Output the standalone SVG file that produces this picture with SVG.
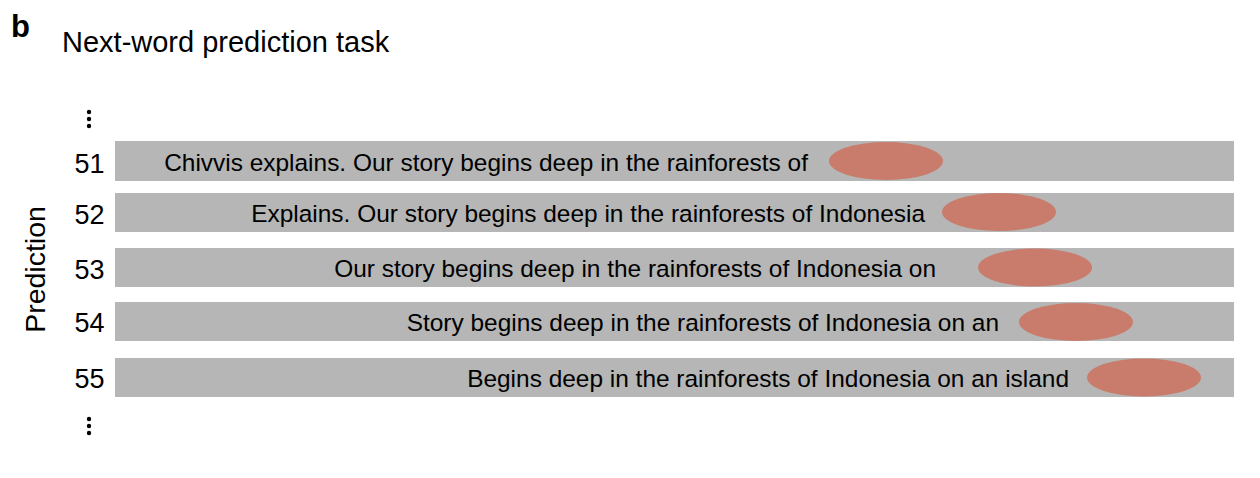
<svg xmlns="http://www.w3.org/2000/svg" width="1260" height="478" viewBox="0 0 1260 478">
<style>
.t{font-family:"Liberation Sans",Arial,sans-serif;fill:#000}
.bar{fill:#b5b6b5}
.ell{fill:#c97c6c}
.s{font-size:24.45px;text-anchor:end}
.n{font-size:27px;text-anchor:end}
.dot{fill:#000}
</style>
<rect width="1260" height="478" fill="#fff"/>
<text class="t" x="11" y="37" font-size="31" font-weight="bold">b</text>
<text class="t" x="62" y="52" font-size="29">Next-word prediction task</text>
<text class="t" font-size="28.5" text-anchor="middle" transform="translate(45,269.5) rotate(-90)">Prediction</text>
<g id="dots-top"><circle class="dot" cx="89" cy="112" r="2.2"/><circle class="dot" cx="89" cy="119" r="2.2"/><circle class="dot" cx="89" cy="126" r="2.2"/></g>
<g id="dots-bottom"><circle class="dot" cx="89" cy="419" r="2.2"/><circle class="dot" cx="89" cy="426" r="2.2"/><circle class="dot" cx="89" cy="433" r="2.2"/></g>
<g id="row51">
<text class="t n" x="104.5" y="172.5">51</text>
<rect class="bar" x="115" y="141" width="1119" height="40"/>
<ellipse class="ell" cx="886" cy="161" rx="57" ry="19"/>
<text class="t s" x="808" y="171">Chivvis explains. Our story begins deep in the rainforests of</text>
</g>
<g id="row52">
<text class="t n" x="104.5" y="224">52</text>
<rect class="bar" x="115" y="193" width="1119" height="39"/>
<ellipse class="ell" cx="999" cy="212" rx="57" ry="19"/>
<text class="t s" x="925" y="222">Explains. Our story begins deep in the rainforests of Indonesia</text>
</g>
<g id="row53">
<text class="t n" x="104.5" y="279">53</text>
<rect class="bar" x="115" y="248" width="1119" height="39"/>
<ellipse class="ell" cx="1035" cy="267.5" rx="57" ry="19"/>
<text class="t s" x="936" y="277">Our story begins deep in the rainforests of Indonesia on</text>
</g>
<g id="row54">
<text class="t n" x="104.5" y="332">54</text>
<rect class="bar" x="115" y="302" width="1119" height="39"/>
<ellipse class="ell" cx="1076" cy="322" rx="57" ry="19"/>
<text class="t s" x="999" y="331">Story begins deep in the rainforests of Indonesia on an</text>
</g>
<g id="row55">
<text class="t n" x="104.5" y="388">55</text>
<rect class="bar" x="115" y="358" width="1119" height="39"/>
<ellipse class="ell" cx="1144" cy="377.5" rx="57" ry="19"/>
<text class="t s" x="1069" y="387">Begins deep in the rainforests of Indonesia on an island</text>
</g>
<g id="connectors"/>
</svg>
